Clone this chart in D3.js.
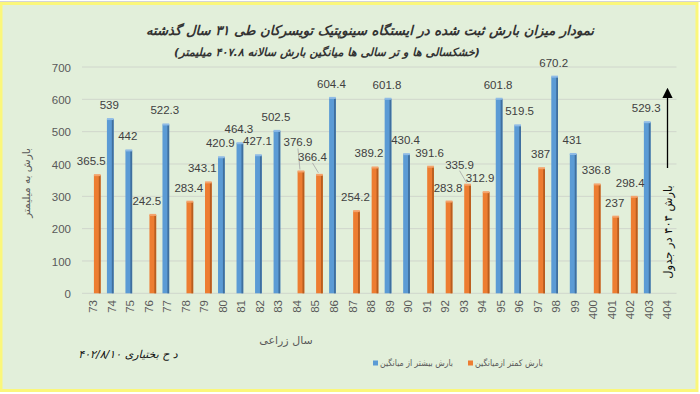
<!DOCTYPE html>
<html><head><meta charset="utf-8">
<script src="https://cdn.jsdelivr.net/npm/d3@7"></script>
<style>
html,body{margin:0;padding:0;background:#fff;}
svg{display:block;}
</style></head>
<body>
<script>
// ---- data ----
const years = ['73','74','75','76','77','78','79','80','81','82','83','84','85','86','87','88','89','90','91','92','93','94','95','96','97','98','99','400','401','402','403','404'];
const moreThanAvg = [null,539,442,null,522.3,null,null,420.9,464.3,427.1,502.5,null,null,604.4,null,null,601.8,430.4,null,null,null,null,601.8,519.5,null,670.2,431,null,null,null,529.3,null];
const lessThanAvg = [365.5,null,null,242.5,null,283.4,343.1,null,null,null,null,376.9,366.4,null,254.2,389.2,null,null,391.6,283.8,335.9,312.9,null,null,387,null,null,336.8,237,298.4,null,null];
const yTicks = [0,100,200,300,400,500,600,700];
const seriesNames = ['بارش بیشتر از میانگین','بارش کمتر ازمیانگین'];
const titleLine1 = 'نمودار میزان بارش ثبت شده در ایستگاه سینوپتیک تویسرکان طی ۳۱ سال گذشته';
const titleLine2 = '(خشکسالی ها و تر سالی ها میانگین بارش سالانه ۴۰۷.۸ میلیمتر)';
const yTitle = 'بارش به میلیمتر';
const xTitle = 'سال زراعی';
const signature = 'د ح بختیاری ۴۰۲/۸/۱۰';
const note404 = 'بارش ۴۰۴ در جدول';

// ---- layout config (not data) ----
const W = 700, H = 394;
const labelNudge = { // [dx, dy, leader]
  '73':[-5,0], '76':[-5,0], '79':[-5,0], '88':[-5,0], '94':[-5,0], '402':[-3,0],
  '84':[-2,-15,true], '85':[-6,-4,true], '93':[-7,-6,true], '96':[3,0]
};
const colors = {blue:'#5b9bd5', blueDark:'#3f6f9e', blueLight:'#8fbbe6', orange:'#ed7d31', orangeDark:'#b85d1f', orangeLight:'#f4a36c'};
const persianFont = "'DejaVu Sans', 'Noto Sans', sans-serif";
const numFont = "'Liberation Sans', Arial, sans-serif";

const svg = d3.select('body').append('svg').attr('width', W).attr('height', H);

// sheet background with cell lines
svg.append('rect').attr('width', W).attr('height', H).attr('fill', '#ffffff');
svg.append('line').attr('x1',0).attr('x2',W).attr('y1',1.5).attr('y2',1.5).attr('stroke','#d4d4d4');
// chart area with yellow glow border
svg.append('rect').attr('x',1).attr('y',3.5).attr('width',696).attr('height',387)
  .attr('fill','#e2efda').attr('stroke','#fbf77a').attr('stroke-width',3);

// scales
const x = d3.scaleBand().domain(years).range([84, 676.5]).padding(0);
const y = d3.scaleLinear().domain([0, 700]).range([293.3, 67]);
const cx = d => x(d) + x.bandwidth() / 2;

// gridlines
svg.append('g').selectAll('line').data(yTicks).join('line')
  .attr('x1', 82).attr('x2', 676.5)
  .attr('y1', d => y(d)).attr('y2', d => y(d))
  .attr('stroke', '#d0d6cc').attr('stroke-width', 1);

// y axis
const yAxis = d3.axisLeft(y).tickValues(yTicks).tickSize(0).tickPadding(0);
const gy = svg.append('g').attr('transform', 'translate(71,0)').call(yAxis);
gy.select('.domain').remove();
gy.selectAll('text').attr('font-family', numFont).attr('font-size', 11.5).attr('fill', '#595959').attr('dy','0.35em');

// x axis
const xAxis = d3.axisBottom(x).tickSize(0).tickPadding(0);
const gx = svg.append('g').attr('transform', 'translate(0,300)').call(xAxis);
gx.select('.domain').remove();
gx.selectAll('text')
  .attr('font-family', numFont).attr('font-size', 11.5).attr('fill', '#595959')
  .attr('text-anchor', 'end').attr('transform', 'rotate(-90)')
  .attr('x', 0).attr('y', 0).attr('dx', '0').attr('dy', '0.35em');

// bars
const barW = 6.7;
const bars = [];
years.forEach((yr, i) => {
  if (moreThanAvg[i] != null) bars.push({yr, v: moreThanAvg[i], s: 'blue', c: cx(yr) - 1.5});
  if (lessThanAvg[i] != null) bars.push({yr, v: lessThanAvg[i], s: 'orange', c: cx(yr) + 4});
});
const gb = svg.append('g');
bars.forEach(b => {
  const top = y(b.v), bot = y(0);
  gb.append('rect').attr('x', b.c - barW/2).attr('y', top).attr('width', barW).attr('height', bot - top)
    .attr('fill', colors[b.s]);
  gb.append('rect').attr('x', b.c + barW/2 - 1.8).attr('y', top).attr('width', 1.8).attr('height', bot - top)
    .attr('fill', colors[b.s + 'Dark']);
  gb.append('rect').attr('x', b.c - barW/2).attr('y', top - 1).attr('width', barW).attr('height', 2)
    .attr('fill', colors[b.s + 'Light']);
});

// data labels
const gl = svg.append('g');
bars.forEach(b => {
  const n = labelNudge[b.yr] || [0, 0];
  const lx = b.c - 1 + n[0];
  const ly = y(b.v) - 10 + n[1];
  if (n[2]) {
    gl.append('line').attr('x1', lx).attr('y1', ly + 2).attr('x2', b.c - 1).attr('y2', y(b.v) - 2)
      .attr('stroke', '#a6a6a6').attr('stroke-width', 0.8);
  }
  gl.append('text').attr('x', lx).attr('y', ly).attr('text-anchor', 'middle')
    .attr('font-family', numFont).attr('font-size', 11.5).attr('fill', '#404040')
    .text(b.v);
});

// titles
svg.append('text').attr('x', 370).attr('y', 35).attr('text-anchor','middle').attr('direction','rtl')
  .attr('font-family', persianFont).attr('font-size', 13.2).attr('font-weight','bold').attr('font-style','italic')
  .attr('fill','#333333').text(titleLine1);
svg.append('text').attr('x', 327).attr('y', 56).attr('text-anchor','middle').attr('direction','rtl')
  .attr('font-family', persianFont).attr('font-size', 11.2).attr('font-weight','bold').attr('font-style','italic')
  .attr('fill','#333333').text(titleLine2);

// axis titles
svg.append('text').attr('transform','translate(26,183) rotate(-90)').attr('text-anchor','middle')
  .attr('dy','0.35em').attr('direction','rtl')
  .attr('font-family', persianFont).attr('font-size', 10.5).attr('fill','#595959').text(yTitle);
svg.append('text').attr('x', 286).attr('y', 344).attr('text-anchor','middle').attr('direction','rtl')
  .attr('font-family', persianFont).attr('font-size', 11).attr('fill','#595959').text(xTitle);

// signature
svg.append('text').attr('x', 128).attr('y', 358).attr('text-anchor','middle').attr('direction','rtl')
  .attr('font-family', persianFont).attr('font-size', 11).attr('font-style','italic').attr('fill','#111111').text(signature);

// legend
const legend = [{name: seriesNames[0], col: colors.blue, x: 373, w: 73}, {name: seriesNames[1], col: colors.orange, x: 468, w: 68}];
const gleg = svg.append('g');
legend.forEach(l => {
  gleg.append('rect').attr('x', l.x).attr('y', 360.5).attr('width', 5).attr('height', 5).attr('fill', l.col);
  gleg.append('text').attr('x', l.x + 7).attr('y', 363).attr('dy','0.35em').attr('text-anchor','start')
    .attr('direction','ltr').attr('unicode-bidi','embed')
    .attr('textLength', l.w).attr('lengthAdjust','spacingAndGlyphs')
    .attr('font-family', persianFont).attr('font-size', 9).attr('fill','#595959').text(l.name);
});

// 404 annotation arrow
svg.append('defs').append('marker').attr('id','arr').attr('viewBox','0 0 10 10')
  .attr('refX',5).attr('refY',5).attr('markerWidth',8).attr('markerHeight',8).attr('orient','auto')
  .append('path').attr('d','M0,0 L10,5 L0,10 z').attr('fill','#000');
svg.append('line').attr('x1', 667.5).attr('y1', 168).attr('x2', 667.5).attr('y2', 93)
  .attr('stroke','#000').attr('stroke-width',1.3).attr('marker-end','url(#arr)');
svg.append('text').attr('transform','translate(668,232) rotate(-90)').attr('text-anchor','middle')
  .attr('dy','0.35em').attr('direction','rtl')
  .attr('font-family', persianFont).attr('font-size', 11.5).attr('fill','#111').text(note404);
</script>
</body></html>
